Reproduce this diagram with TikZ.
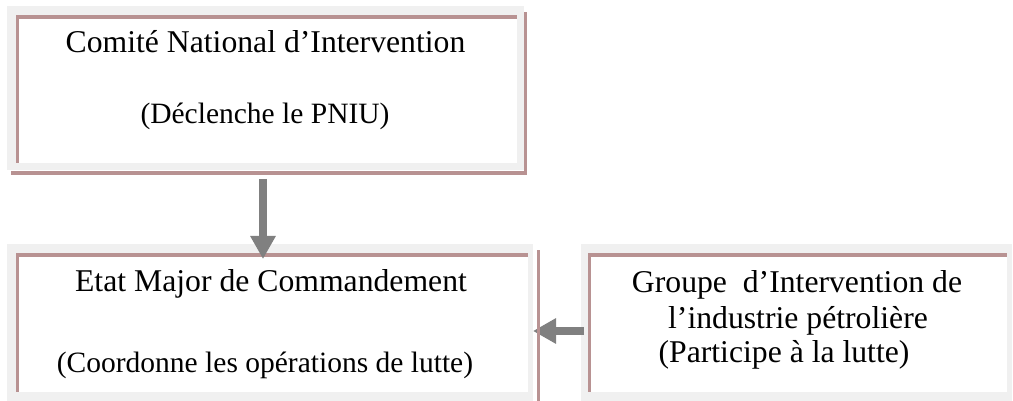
\documentclass[tikz,border=0pt]{standalone}
\usepackage{fontspec}
\setmainfont{Liberation Serif}
\usetikzlibrary{arrows.meta}
\definecolor{framegray}{RGB}{240,240,240}
\definecolor{rosy}{RGB}{184,146,146}
\definecolor{arrowgray}{RGB}{128,128,128}
\tikzset{
  frame/.style={fill=framegray, draw=none, inner sep=0pt, outer sep=0pt, anchor=north west},
  maintext/.style={font=\fontsize{31.7}{38}\selectfont, anchor=base, inner sep=0pt},
  subtext/.style={font=\fontsize{29.5}{35}\selectfont, anchor=base, inner sep=0pt},
  arr/.style={draw=arrowgray, line width=8pt, -{Triangle[width=24pt,length=23pt]}}
}
\begin{document}
\begin{tikzpicture}[x=1pt,y=-1pt]
\useasboundingbox (0,0) rectangle (1013,401);
\fill[white] (0,0) rectangle (1013,401);
% Box 1
\node[frame, minimum width=517pt, minimum height=164pt] (cni) at (7,6) {};
\fill[white] (16,15) rectangle (517,163);
\fill[rosy] (16,15) rectangle (517,19);
\fill[rosy] (16,15) rectangle (19,163);
\fill[rosy] (11,171) rectangle (527,175);
\fill[rosy] (524,12) rectangle (527,175);
% Box 2
\node[frame, minimum width=526pt, minimum height=157pt] (emc) at (7,244) {};
\fill[white] (16,253) rectangle (528,392);
\fill[rosy] (16,253) rectangle (528,257);
\fill[rosy] (16,253) rectangle (19,392);
% Box 3
\node[frame, minimum width=431pt, minimum height=157pt] (gip) at (581,244) {};
\fill[white] (591,253) rectangle (1007,392);
\fill[rosy] (588,253) rectangle (1007,257);
\fill[rosy] (588,253) rectangle (591,392);
% Texts
\node[maintext] (t1a) at (265.5,53) {Comité National d’Intervention};
\node[subtext] (t1b) at (265,124) {(Déclenche le PNIU)};
\node[maintext] (t2a) at (271,291) {Etat Major de Commandement};
\node[subtext] (t2b) at (265,372) {(Coordonne les opérations de lutte)};
\node[maintext] (t3a) at (797,292) {Groupe\ \ d’Intervention de};
\node[maintext] (t3b) at (798,328) {l’industrie pétrolière};
\node[maintext] (t3c) at (784,362) {(Participe à la lutte)};
% Arrows
\draw[arr] ([xshift=-2.5pt,yshift=-9pt]cni.south) -- ([xshift=-7pt,yshift=-15pt]emc.north);
\draw[arr] ([xshift=3pt,yshift=-8.5pt]gip.west) -- ([yshift=-8.5pt]emc.east);
% right shadow line of box 2 (drawn over the arrow head)
\fill[rosy] (537,250) rectangle (539.5,401);
\end{tikzpicture}
\end{document}
